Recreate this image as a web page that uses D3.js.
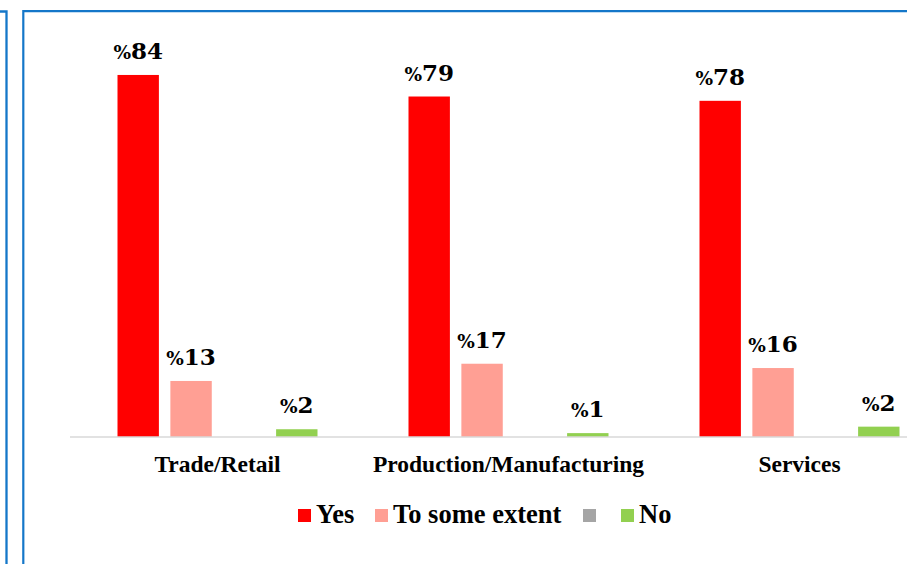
<!DOCTYPE html>
<html>
<head>
<meta charset="utf-8">
<script src="https://cdn.jsdelivr.net/npm/d3@7"></script>
<style>
  html, body { margin: 0; padding: 0; background: #fff; }
  svg { display: block; }
  text { font-family: "Liberation Serif", "DejaVu Serif", serif; font-weight: bold; fill: #000; }
</style>
</head>
<body>
<svg id="chart" width="907" height="564"></svg>
<script>
const categories = ["Trade/Retail", "Production/Manufacturing", "Services"];
const seriesNames = ["Yes", "To some extent", "", "No"];
const seriesColors = ["#FF0000", "#FF9F94", "#A5A5A5", "#92D050"];
const yesValues = [84, 79, 78];
const someValues = [13, 17, 16];
const blankValues = [0, 0, 0];
const noValues = [1.8, 0.9, 2.4];
const yesLabels = ["84", "79", "78"];
const someLabels = ["13", "17", "16"];
const noLabels = ["2", "1", "2"];

const seriesValues = [yesValues, someValues, blankValues, noValues];
const seriesLabels = [yesLabels, someLabels, null, noLabels];

const svg = d3.select("#chart");

// Borders (outer frames)
const border = "#1477C9";
svg.append("path").attr("d", "M0,11.5 H6.5 V564").attr("fill", "none").attr("stroke", border).attr("stroke-width", 2.3);
svg.append("path").attr("d", "M23.3,564 V11.2 H907").attr("fill", "none").attr("stroke", border).attr("stroke-width", 2.2);

const x = d3.scaleBand().domain(categories).range([72, 945]).paddingInner(0).paddingOuter(0);
const xi = d3.scaleBand().domain(d3.range(seriesNames.length))
  .range([45.5, 245.5]).paddingInner(0.217).paddingOuter(0);
const y = d3.scaleLinear().domain([0, 100]).range([437, 6]);

// Bars
seriesValues.forEach((vals, si) => {
  const g = svg.append("g");
  g.selectAll("rect").data(categories).join("rect")
    .attr("x", (c) => x(c) + xi(si))
    .attr("y", (c, i) => y(vals[i]))
    .attr("width", xi.bandwidth())
    .attr("height", (c, i) => y(0) - y(vals[i]))
    .attr("fill", seriesColors[si]);
  if (seriesLabels[si]) {
    const t = g.selectAll("text").data(categories).join("text")
      .attr("x", (c) => x(c) + xi(si) + xi.bandwidth() / 2)
      .attr("y", (c, i) => y(vals[i]) - 16)
      .attr("text-anchor", "middle")
      .style("font-family", "'DejaVu Serif', serif");
    t.append("tspan").attr("font-size", 18.5).text("%");
    t.append("tspan").attr("font-size", 23).text((c, i) => seriesLabels[si][i]);
  }
});

// Axis
const axis = d3.axisBottom(x).tickSize(0).tickPadding(18);
const ag = svg.append("g").attr("transform", "translate(0,437)").call(axis);
ag.select(".domain").attr("stroke", "#D9D9D9").attr("stroke-width", 1.5).attr("d", "M70,0H907");
ag.selectAll("text")
  .attr("font-size", 23.5)
  .attr("font-family", "Liberation Serif")
  .attr("font-weight", "bold")
  .attr("fill", "#000")
  .attr("dy", null)
  .attr("y", 34.5);

// Legend
const legendItems = [
  { name: seriesNames[0], color: seriesColors[0], x: 298 },
  { name: seriesNames[1], color: seriesColors[1], x: 375 },
  { name: seriesNames[2], color: seriesColors[2], x: 583 },
  { name: seriesNames[3], color: seriesColors[3], x: 621 }
];
const lg = svg.append("g");
legendItems.forEach((d) => {
  lg.append("rect").attr("x", d.x).attr("y", 509).attr("width", 13).attr("height", 13).attr("fill", d.color);
  lg.append("text").attr("x", d.x + 18).attr("y", 523).attr("font-size", 26.5).text(d.name);
});
</script>
</body>
</html>
